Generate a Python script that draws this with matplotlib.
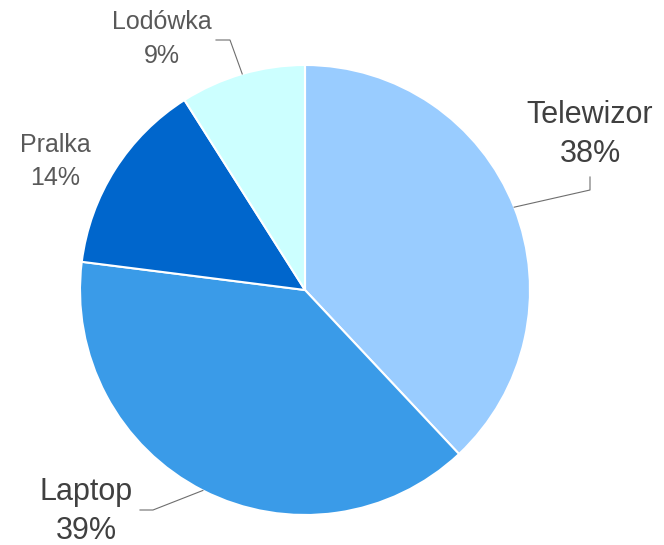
import numpy as np
import matplotlib
matplotlib.use('Agg')
import matplotlib.pyplot as plt

plt.rcParams['font.family'] = ['Liberation Sans', 'DejaVu Sans']

# dane
names = ['Telewizor', 'Laptop', 'Pralka', 'Lodówka']
shares = [38, 39, 14, 9]
colors = ['#99CCFF', '#3A9BE8', '#0066CC', '#CCFFFF']

W, H = 664, 545
fig = plt.figure(figsize=(W / 100, H / 100), dpi=100)
ax = fig.add_axes([0, 0, 1, 1])

cx, cy, r = 305, H - 290, 225
wedges, _ = ax.pie(shares, colors=colors, startangle=90, counterclock=False,
                   center=(cx, cy), radius=r, frame=True,
                   wedgeprops=dict(edgecolor='white', linewidth=1.5))
ax.set_xlim(0, W)
ax.set_ylim(0, H)
ax.set_aspect('equal')
ax.axis('off')


def edge_point(w):
    ang = np.deg2rad((w.theta1 + w.theta2) / 2)
    return cx + r * np.cos(ang), cy + r * np.sin(ang)


# etykiety: (x środka, linia bazowa nazwy, linia bazowa %, rozmiar, kolor)
lab = {
    'Telewizor': (590, 123, 162, 22, '#404040'),
    'Laptop': (86, 500, 539, 22, '#404040'),
    'Pralka': (55, 152, 185, 18, '#595959'),
    'Lodówka': (162, 29, 63, 18, '#595959'),
}
for w, name, val in zip(wedges, names, shares):
    x, y1, y2, fs, c = lab[name]
    ax.text(x, H - y1, name, ha='center', va='baseline', fontsize=fs, color=c)
    ax.text(x, H - y2, f'{val}%', ha='center', va='baseline', fontsize=fs, color=c)

# linie odniesienia
lc = dict(color='#6E6E6E', linewidth=0.8)
px, py = edge_point(wedges[0])
ax.plot([px, 590, 590], [py, H - 190, H - 177], **lc)
px, py = edge_point(wedges[1])
ax.plot([px, 153, 140], [py, H - 510, H - 510], **lc)
px, py = edge_point(wedges[3])
ax.plot([px, 230, 216], [py, H - 40, H - 40], **lc)

fig.savefig('out.png', dpi=100, facecolor='white')
